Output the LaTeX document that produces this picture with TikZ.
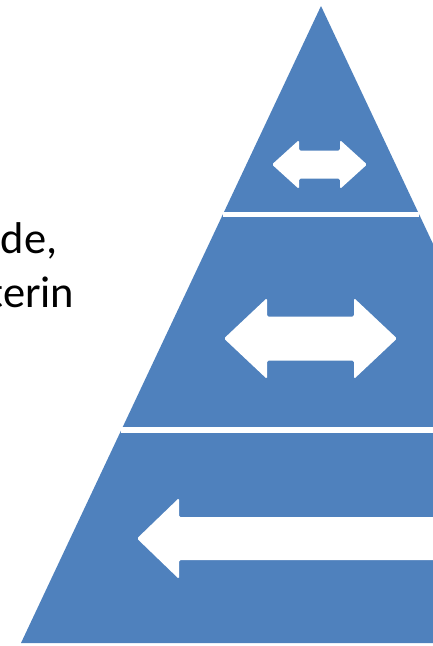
\documentclass[tikz,border=0pt]{standalone}
\usepackage{fontspec}
\setmainfont{Carlito}
\usetikzlibrary{calc}

\definecolor{pyrblue}{RGB}{79,129,189}

% double arrow: left tip x, right tip x, centre y, head length, head half, shaft half
\newcommand{\twoway}[6]{%
    \fill[arr] ({#1},{#3}) -- ({#1+#4},{#3-#5}) -- ({#1+#4},{#3-#6})
        -- ({#2-#4},{#3-#6}) -- ({#2-#4},{#3-#5}) -- ({#2},{#3})
        -- ({#2-#4},{#3+#5}) -- ({#2-#4},{#3+#6}) -- ({#1+#4},{#3+#6})
        -- ({#1+#4},{#3+#5}) -- cycle;}

\begin{document}
\begin{tikzpicture}[x=1pt, y=-1pt,
    tier/.style={fill=pyrblue, draw=none},
    gap/.style={draw=white, line width=5.5pt},
    arr/.style={white, rounded corners=1.5pt},
    lbl/.style={anchor=base east, inner sep=0pt, font=\fontsize{44.5}{53}\selectfont}
]
    \useasboundingbox (0,0) rectangle (433,646);
    \clip (0,0) rectangle (433,646);

    % Pyramid
    \coordinate (apex) at (321,6);
    \coordinate (bl) at (21,643);
    \coordinate (br) at (621,643);
    \fill[tier] (apex) -- (bl) -- (br) -- cycle;

    % Tier gaps
    \draw[gap] ($(apex)!0.3273!(bl)$) -- ($(apex)!0.3273!(br)$);
    \draw[gap] ($(apex)!0.6656!(bl)$) -- ($(apex)!0.6656!(br)$);

    % Arrows
    \twoway{272}{367}{164.5}{27}{24.5}{14}
    \twoway{224}{397}{338.5}{43}{40.5}{22}
    \twoway{137}{505}{538.5}{42}{40.5}{21.5}

    % Text
    \node[lbl] (line1) at (57.5,253) {nde,};
    \node[lbl] (line2) at (74.5,307) {terin};
\end{tikzpicture}
\end{document}
